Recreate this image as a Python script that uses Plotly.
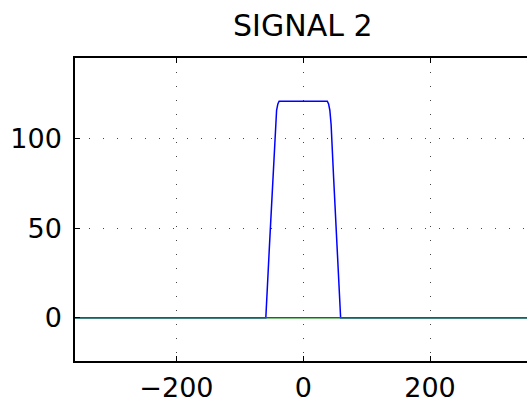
import plotly.graph_objects as go

# Data
x_pulse = [-360, -59, -53, -48, -44, -42, -40, -38, 38, 40, 42, 44, 48, 53, 59, 360]
y_pulse = [0, 0, 42, 78, 108, 116, 119.5, 121, 121, 119.5, 116, 108, 78, 42, 0, 0]
x_base = [-360, 360]
y_base = [0, 0]
x_ticks = [-200, 0, 200]
y_ticks = [0, 50, 100]
x_range = [-360, 353]
y_range = [-24.2, 145.2]
title_text = "SIGNAL 2"

fig = go.Figure()
fig.add_trace(go.Scatter(x=x_pulse, y=y_pulse, mode="lines",
                         line=dict(color="#0000ff", width=1.5), showlegend=False))
fig.add_trace(go.Scatter(x=x_base, y=y_base, mode="lines",
                         line=dict(color="#008000", width=1.5), showlegend=False))

axis_font = dict(family="DejaVu Sans", size=27, color="black")
fig.update_layout(
    width=527, height=403,
    margin=dict(l=75, r=0, t=58, b=42),
    paper_bgcolor="white", plot_bgcolor="white",
    title=dict(text=title_text, x=0.504, xanchor="center", xref="paper",
               y=1 - 25 / 403, yref="container", yanchor="middle",
               font=dict(family="DejaVu Sans", size=30, color="black")),
    xaxis=dict(range=x_range, tickvals=x_ticks,
               ticktext=["\u2212200", "0", "200"],
               showline=True, linecolor="black", linewidth=1.5, mirror="ticks",
               ticks="inside", ticklen=5, tickcolor="black", tickwidth=1.2,
               showgrid=True, gridcolor="#444", griddash="1px,13px", gridwidth=1,
               zeroline=False, tickfont=axis_font, ticklabelstandoff=2,
               automargin=False),
    yaxis=dict(range=y_range, tickvals=y_ticks,
               showline=True, linecolor="black", linewidth=1.5, mirror=False,
               ticks="inside", ticklen=5, tickcolor="black", tickwidth=1.2,
               showgrid=True, gridcolor="#444", griddash="1px,13px", gridwidth=1,
               zeroline=False, tickfont=axis_font, ticklabelstandoff=6,
               automargin=False),
)
fig.write_html("out.html")
